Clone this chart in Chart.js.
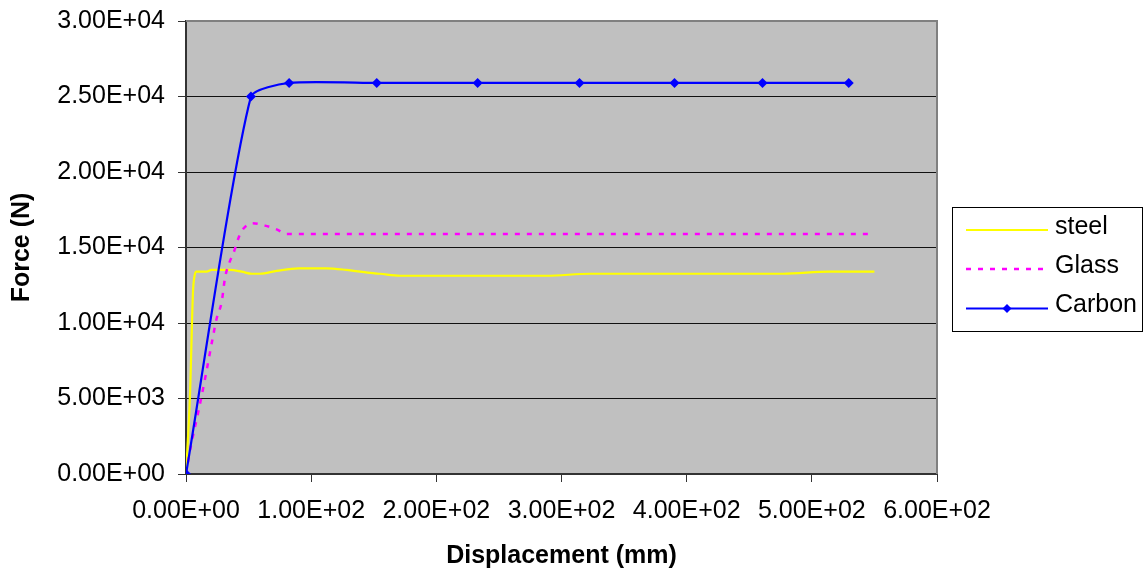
<!DOCTYPE html>
<html>
<head>
<meta charset="utf-8">
<title>Force vs Displacement</title>
<script src="https://cdn.jsdelivr.net/npm/chart.js@4.4.1/dist/chart.umd.min.js"></script>
<style>
  html, body { margin: 0; padding: 0; background: #ffffff; }
  #wrap { width: 1145px; height: 573px; }
</style>
</head>
<body>
<div id="wrap"><canvas id="c" width="1145" height="573"></canvas></div>
<script>
// Load–displacement curves for the three materials (displacement in mm, force in N)
const steelX  = [0, 3.2, 5.6, 6.6, 8, 16.5, 20.5, 35, 44.5, 52.5, 59, 72.5, 89.8, 112, 128, 149.4, 155, 171, 288, 323, 477, 514, 550];
const steelY  = [0, 5250, 12100, 13000, 13400, 13400, 13520, 13520, 13400, 13260, 13260, 13450, 13620, 13620, 13520, 13300, 13260, 13130, 13130, 13260, 13260, 13400, 13400];

const glassX  = [0, 4, 9.8, 15.2, 21.8, 24.5, 28.5, 31.2, 35.1, 37.8, 41.8, 44.5, 53.3, 63.1, 72.4, 80.4, 546];
const glassY  = [0, 1900, 4100, 6300, 9200, 10300, 11400, 13000, 14100, 14600, 15600, 16100, 16600, 16450, 16200, 15900, 15900];

const carbonX = [0, 51.9, 82.4, 152.4, 233, 314.4, 390.3, 460.6, 529.5];
const carbonY = [0, 25000, 25900, 25900, 25900, 25900, 25900, 25900, 25900];

const seriesNames = ['steel', 'Glass', 'Carbon'];
const xTicks = [0, 100, 200, 300, 400, 500, 600];
const yTicks = [0, 5000, 10000, 15000, 20000, 25000, 30000];

const toPoints = (xs, ys) => xs.map((x, i) => ({ x: x, y: ys[i] }));

// Excel-style scientific notation: 2.50E+04
function sci(v) {
  if (v === 0) return '0.00E+00';
  const e = Math.floor(Math.log10(Math.abs(v)) + 1e-9);
  const m = v / Math.pow(10, e);
  return m.toFixed(2) + 'E' + (e < 0 ? '-' : '+') + String(Math.abs(e)).padStart(2, '0');
}

const COLORS = { steel: '#FFFF00', glass: '#FF00FF', carbon: '#0000FF' };
const FONT = "'Liberation Sans', Arial, sans-serif";

// Fixed axis sizes so the plot area sits at a known place
function fixScale(size) {
  return function (scale) {
    if (scale.isHorizontal()) scale.height = size; else scale.width = size;
    scale.paddingTop = 0;
    scale.paddingBottom = 0;
    scale.paddingLeft = 0;
    scale.paddingRight = 0;
  };
}

// Grey plot background and the grey frame on top / right
const plotFrame = {
  id: 'plotFrame',
  beforeDraw(chart) {
    const a = chart.chartArea, ctx = chart.ctx;
    ctx.save();
    ctx.fillStyle = '#C0C0C0';
    ctx.fillRect(a.left, a.top, a.right - a.left, a.bottom - a.top);
    ctx.restore();
  },
  afterDatasetsDraw(chart) {
    const a = chart.chartArea, ctx = chart.ctx;
    ctx.save();
    ctx.strokeStyle = '#808080';
    ctx.lineWidth = 2;
    ctx.beginPath();
    ctx.moveTo(a.left, a.top);
    ctx.lineTo(a.right, a.top);
    ctx.lineTo(a.right, a.bottom);
    ctx.stroke();
    ctx.restore();
  }
};

// Boxed legend on the right
const boxLegend = {
  id: 'boxLegend',
  afterDraw(chart) {
    const ctx = chart.ctx;
    const box = { x: 952.5, y: 207.5, w: 190, h: 124 };
    ctx.save();
    ctx.fillStyle = '#ffffff';
    ctx.fillRect(box.x, box.y, box.w, box.h);
    ctx.strokeStyle = '#000000';
    ctx.lineWidth = 1;
    ctx.strokeRect(box.x, box.y, box.w, box.h);

    const rows = [230, 269, 308.5];
    const x0 = 966, x1 = 1048, tx = 1055;
    chart.data.datasets.forEach((ds, i) => {
      const y = rows[i];
      ctx.save();
      ctx.strokeStyle = ds.borderColor;
      ctx.lineWidth = ds.borderWidth;
      ctx.setLineDash(ds.borderDash || []);
      ctx.beginPath();
      ctx.moveTo(x0, y);
      ctx.lineTo(x1, y);
      ctx.stroke();
      ctx.restore();
      if (ds.pointStyle === 'rectRot') {
        const cx = (x0 + x1) / 2, r = 4.5;
        ctx.fillStyle = ds.pointBackgroundColor;
        ctx.beginPath();
        ctx.moveTo(cx, y - r);
        ctx.lineTo(cx + r, y);
        ctx.lineTo(cx, y + r);
        ctx.lineTo(cx - r, y);
        ctx.closePath();
        ctx.fill();
      }
      ctx.fillStyle = '#000000';
      ctx.font = '25px ' + FONT;
      ctx.textAlign = 'left';
      ctx.textBaseline = 'middle';
      ctx.fillText(ds.label, tx, y - 3);
    });
    ctx.restore();
  }
};

new Chart(document.getElementById('c'), {
  type: 'scatter',
  data: {
    datasets: [
      {
        label: seriesNames[0],
        data: toPoints(steelX, steelY),
        showLine: true,
        borderColor: COLORS.steel,
        backgroundColor: COLORS.steel,
        borderWidth: 2.2,
        pointRadius: 0,
        cubicInterpolationMode: 'monotone',
        order: 2
      },
      {
        label: seriesNames[1],
        data: toPoints(glassX, glassY),
        showLine: true,
        borderColor: COLORS.glass,
        backgroundColor: COLORS.glass,
        borderWidth: 2.5,
        borderDash: [5, 7],
        pointRadius: 0,
        cubicInterpolationMode: 'monotone',
        order: 1
      },
      {
        label: seriesNames[2],
        data: toPoints(carbonX, carbonY),
        showLine: true,
        borderColor: COLORS.carbon,
        backgroundColor: COLORS.carbon,
        borderWidth: 2.2,
        tension: 0.2,
        pointStyle: 'rectRot',
        pointRadius: 5,
        pointBackgroundColor: COLORS.carbon,
        pointBorderColor: COLORS.carbon,
        pointBorderWidth: 0,
        order: 0
      }
    ]
  },
  options: {
    responsive: false,
    animation: false,
    layout: { padding: { top: 21, right: 208, bottom: 0, left: 0 } },
    plugins: {
      legend: { display: false },
      tooltip: { enabled: false }
    },
    scales: {
      x: {
        type: 'linear',
        min: xTicks[0],
        max: xTicks[xTicks.length - 1],
        afterBuildTicks(scale) { scale.ticks = xTicks.map(v => ({ value: v })); },
        afterFit: fixScale(99),
        border: { display: true, color: '#333333', width: 2 },
        grid: { drawOnChartArea: false, drawTicks: true, tickLength: 8, tickColor: '#333333', lineWidth: 1 },
        ticks: {
          autoSkip: false,
          maxRotation: 0,
          minRotation: 0,
          padding: 14,
          color: '#000000',
          font: { family: FONT, size: 25 },
          callback: v => sci(v)
        },
        title: {
          display: true,
          text: 'Displacement (mm)',
          color: '#000000',
          font: { family: FONT, size: 25, weight: 'bold' },
          padding: { top: 0, bottom: 2 }
        }
      },
      y: {
        type: 'linear',
        min: yTicks[0],
        max: yTicks[yTicks.length - 1],
        afterBuildTicks(scale) { scale.ticks = yTicks.map(v => ({ value: v })); },
        afterFit: fixScale(186),
        border: { display: true, color: '#333333', width: 2 },
        grid: {
          color: c => (c.tick && c.tick.value === yTicks[yTicks.length - 1]) ? 'rgba(0,0,0,0)' : '#111111',
          lineWidth: 1,
          drawTicks: true,
          tickLength: 8,
          tickColor: '#333333'
        },
        ticks: {
          padding: 13,
          color: '#000000',
          font: { family: FONT, size: 25 },
          callback: v => sci(v)
        },
        title: {
          display: true,
          text: 'Force (N)',
          color: '#000000',
          font: { family: FONT, size: 25, weight: 'bold' },
          padding: { top: 7, bottom: 0 }
        }
      }
    }
  },
  plugins: [plotFrame, boxLegend]
});
</script>
</body>
</html>
